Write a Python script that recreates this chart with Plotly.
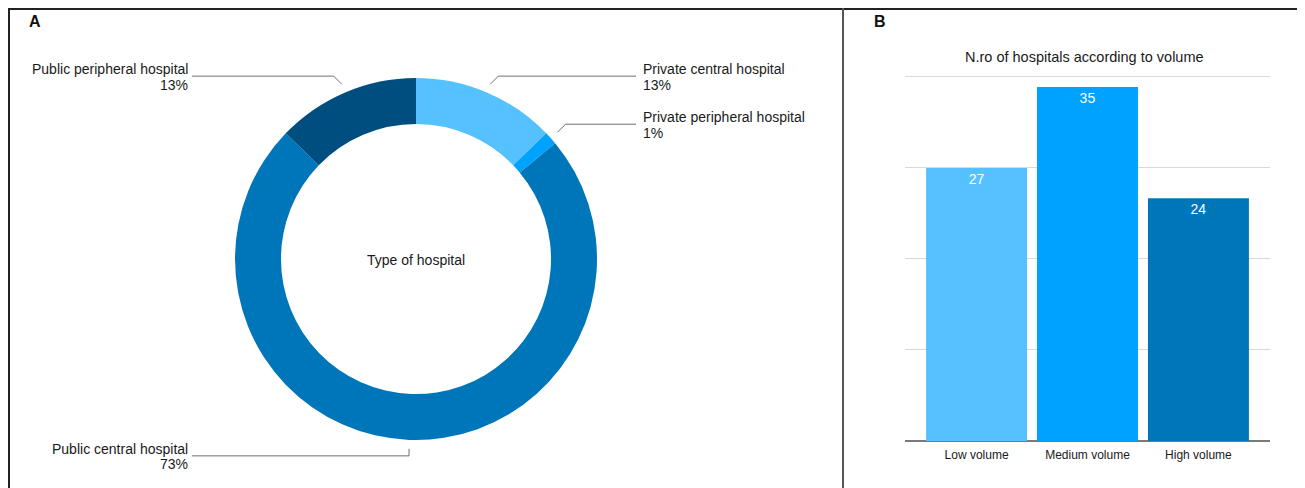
import math
import plotly.graph_objects as go

# ---- data ----
hospital_types = ["Private central hospital", "Private peripheral hospital",
                  "Public central hospital", "Public peripheral hospital"]
hospital_counts = [11, 1, 63, 11]
type_colors = ["#56C1FF", "#00A2FF", "#0076BA", "#004D80"]

volume_categories = ["Low volume", "Medium volume", "High volume"]
volume_counts = [27, 35, 24]
volume_colors = ["#56C1FF", "#00A2FF", "#0076BA"]

W, H = 1305, 488
OFF = 8  # page body margin
FONT = "Liberation Sans, Arial, Helvetica, sans-serif"
TXT = "#1a1a1a"


def px(x):
    return (x - OFF) / W


def py(y):
    return 1 - (y - OFF) / H


# donut geometry (screen pixels)
cx, cy, R = 416, 259, 181

fig = go.Figure()
fig.add_trace(go.Pie(
    labels=hospital_types, values=hospital_counts,
    marker=dict(colors=type_colors, line=dict(width=0)),
    hole=0.746, sort=False, direction="clockwise", rotation=0,
    textinfo="none", hoverinfo="label+percent", showlegend=False,
    domain=dict(x=[px(cx - R), px(cx + R)], y=[py(cy + R), py(cy - R)]),
))

fig.add_trace(go.Bar(
    x=volume_categories, y=volume_counts,
    marker=dict(color=volume_colors, line=dict(width=0)),
    text=[str(v) for v in volume_counts], textposition="inside",
    insidetextanchor="end", textfont=dict(color="white", size=14, family=FONT),
    showlegend=False, xaxis="x", yaxis="y",
))

fig.update_layout(
    width=W, height=H, margin=dict(l=0, r=0, t=0, b=0),
    paper_bgcolor="white", plot_bgcolor="white",
    font=dict(family=FONT, color=TXT),
    bargap=0.09,
    xaxis=dict(domain=[px(905), px(1270)], range=[-0.645, 2.645],
               showgrid=False, showline=False, zeroline=False, ticks="",
               ticklabelstandoff=5,
               tickfont=dict(size=12, color=TXT, family=FONT)),
    yaxis=dict(domain=[py(441), py(71.9)], range=[0, 36.5], dtick=9,
               showgrid=True, gridcolor="#d9d9d9", gridwidth=1,
               zeroline=True, zerolinecolor="#7a7a7a", zerolinewidth=1.5,
               showticklabels=False, showline=False, ticks=""),
)

shapes = []
annotations = []

# frame
for (x0, y0, x1, y1, col, w) in [
    (8, 9, 1305, 9, "#222222", 2),
    (9, 8, 9, 496, "#222222", 2),
    (843, 8, 843, 496, "#555555", 2),
    (1303, 8, 1303, 496, "#bbbbbb", 1),
]:
    shapes.append(dict(type="line", xref="paper", yref="paper",
                       x0=px(x0), y0=py(y0), x1=px(x1), y1=py(y1),
                       line=dict(color=col, width=w), layer="above"))

# leader lines computed from slice angles
total = sum(hospital_counts)
cum = 0
label_side_x = {"right": 636, "left": 192}
for name, val in zip(hospital_types, hospital_counts):
    mid = (cum + val / 2) / total * 2 * math.pi
    cum += val
    dx, dy = math.sin(mid), -math.cos(mid)
    x1, y1 = cx + (R + 9) * dx, cy + (R + 9) * dy
    if abs(dx) < 0.1:
        x2, y2 = x1, y1 + 7 * (1 if dy > 0 else -1)
    else:
        x2, y2 = x1 + 8 * (1 if dx > 0 else -1), y1 + 8 * (1 if dy > 0 else -1)
    side = "right" if dx > 0.1 else "left"
    x3 = label_side_x[side]
    pct = f"{round(val / total * 100)}%"
    path = f"M {px(x1)} {py(y1)} L {px(x2)} {py(y2)} L {px(x3)} {py(y2)}"
    shapes.append(dict(type="path", xref="paper", yref="paper", path=path,
                       line=dict(color="#6e6e6e", width=1), layer="above"))
    tx, anchor = (641, "left") if side == "right" else (190, "right")
    for txt, dyy in ((name, -7), (pct, 8.5)):
        annotations.append(dict(x=px(tx), y=py(y2 + dyy), xref="paper", yref="paper",
                                text=txt, showarrow=False,
                                xanchor=anchor, yanchor="middle", align=anchor,
                                font=dict(size=14, color=TXT, family=FONT)))

annotations += [
    dict(x=px(cx), y=py(260), xref="paper", yref="paper", text="Type of hospital",
         showarrow=False, xanchor="center", yanchor="middle",
         font=dict(size=14, color=TXT, family=FONT)),
    dict(x=px(27), y=py(21), xref="paper", yref="paper", text="<b>A</b>",
         showarrow=False, xanchor="left", yanchor="middle",
         font=dict(size=16, color="#111", family=FONT)),
    dict(x=px(872), y=py(21), xref="paper", yref="paper", text="<b>B</b>",
         showarrow=False, xanchor="left", yanchor="middle",
         font=dict(size=16, color="#111", family=FONT)),
    dict(x=px(1084), y=py(57), xref="paper", yref="paper",
         text="N.ro of hospitals according to volume",
         showarrow=False, xanchor="center", yanchor="middle",
         font=dict(size=14.5, color=TXT, family=FONT)),
]

fig.update_layout(shapes=shapes, annotations=annotations)
fig.write_html("out.html")
